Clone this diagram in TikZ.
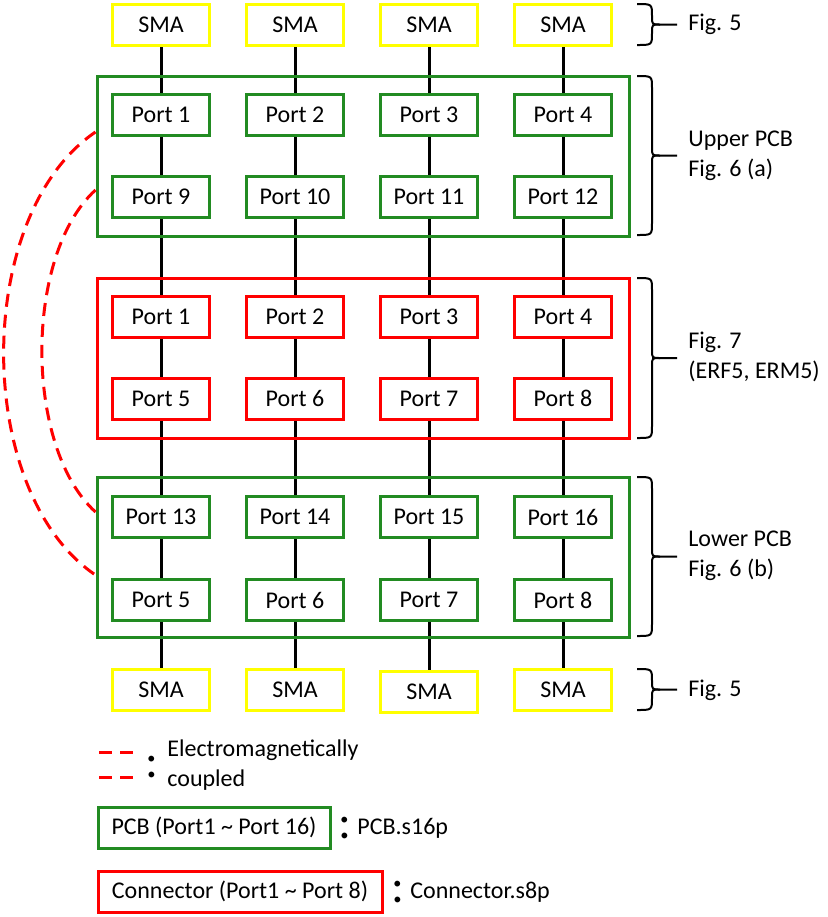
\documentclass[tikz,border=0pt]{standalone}
\usepackage{fontspec}
\setmainfont{Carlito}
\usepackage{tikz}
\usetikzlibrary{shapes}
\usetikzlibrary{backgrounds}
\definecolor{smayellow}{RGB}{255,255,0}
\definecolor{pcbgreen}{RGB}{34,139,34}
\definecolor{conred}{RGB}{255,0,0}
\tikzstyle{SMA} = [rectangle, minimum width=48.5pt, minimum height=20.5pt, inner sep=0pt, text centered, draw=smayellow, line width=1.5pt, fill=white]
\tikzstyle{PCBport} = [rectangle, minimum width=48.5pt, minimum height=20.5pt, inner sep=0pt, text centered, draw=pcbgreen, line width=1.5pt, fill=white]
\tikzstyle{CONport} = [rectangle, minimum width=48.5pt, minimum height=20.5pt, inner sep=0pt, text centered, draw=conred, line width=1.5pt, fill=white]
\tikzstyle{PCBgroup} = [rectangle, minimum width=266pt, minimum height=80pt, draw=pcbgreen, line width=1.5pt]
\tikzstyle{CONgroup} = [rectangle, minimum width=266pt, minimum height=80pt, draw=conred, line width=1.5pt]
\tikzstyle{wire} = [line width=1.5pt, black]
\tikzstyle{coupled} = [line width=1.5pt, conred, dash pattern=on 6.5pt off 4pt]
\tikzstyle{braceline} = [line width=1pt, black]
\tikzstyle{figlabel} = [anchor=west, align=left, inner sep=0pt]
\tikzstyle{colon} = [inner sep=0pt, font=\fontsize{24}{24}\selectfont]
% curly bracket on the right of a block: top, bottom
\newcommand{\figbrace}[2]{%
  \draw[braceline] (637,#1) .. controls (652,#1) .. (652,{#1+12}) -- (652,{(#1+#2)/2-8})
    .. controls (652,{(#1+#2)/2}) .. (660,{(#1+#2)/2}) -- (677,{(#1+#2)/2});
  \draw[braceline] (637,#2) .. controls (652,#2) .. (652,{#2-12}) -- (652,{(#1+#2)/2+8})
    .. controls (652,{(#1+#2)/2}) .. (660,{(#1+#2)/2});
}

\begin{document}
\begin{tikzpicture}[x=0.5pt, y=-0.5pt, node distance=67pt, font=\fontsize{12}{15}\selectfont]

    \useasboundingbox (0,0) rectangle (827,917);

    % SMA on top
    \node(sma1)[SMA] at (161,24.5) {SMA};
    \node(sma2)[SMA, right of=sma1] {SMA};
    \node(sma3)[SMA, right of=sma2] {SMA};
    \node(sma4)[SMA, right of=sma3] {SMA};

    % upper PCB
    \node(upper)[PCBgroup] at (363,156) {};
    \node(pu1)[PCBport] at (161,115) {Port 1};
    \node(pu2)[PCBport, right of=pu1] {Port 2};
    \node(pu3)[PCBport, right of=pu2] {Port 3};
    \node(pu4)[PCBport, right of=pu3] {Port 4};
    \node(pu9)[PCBport] at (161,197) {Port 9};
    \node(pu10)[PCBport, right of=pu9] {Port 10};
    \node(pu11)[PCBport, right of=pu10] {Port 11};
    \node(pu12)[PCBport, right of=pu11] {Port 12};

    % connector
    \node(conn)[CONgroup] at (363,358) {};
    \node(pc1)[CONport] at (161,316.5) {Port 1};
    \node(pc2)[CONport, right of=pc1] {Port 2};
    \node(pc3)[CONport, right of=pc2] {Port 3};
    \node(pc4)[CONport, right of=pc3] {Port 4};
    \node(pc5)[CONport] at (161,398.5) {Port 5};
    \node(pc6)[CONport, right of=pc5] {Port 6};
    \node(pc7)[CONport, right of=pc6] {Port 7};
    \node(pc8)[CONport, right of=pc7] {Port 8};

    % lower PCB
    \node(lower)[PCBgroup] at (363,557) {};
    \node(pl13)[PCBport] at (161,517) {Port 13};
    \node(pl14)[PCBport, right of=pl13] {Port 14};
    \node(pl15)[PCBport, right of=pl14] {Port 15};
    \node(pl16)[PCBport, right of=pl15] {Port 16};
    \node(pl5)[PCBport] at (161,600) {Port 5};
    \node(pl6)[PCBport, right of=pl5] {Port 6};
    \node(pl7)[PCBport, right of=pl6] {Port 7};
    \node(pl8)[PCBport, right of=pl7] {Port 8};

    % SMA at the bottom
    \node(smb1)[SMA] at (161,690) {SMA};
    \node(smb2)[SMA, right of=smb1] {SMA};
    \node(smb3)[SMA, right of=smb2, yshift=-1pt] {SMA};
    \node(smb4)[SMA, right of=smb3, yshift=1pt] {SMA};

    \begin{scope}[on background layer]
    \draw[wire] (sma1) -- (smb1);
    \draw[wire] (sma2) -- (smb2);
    \draw[wire] (sma3) -- (smb3);
    \draw[wire] (sma4) -- (smb4);
    \end{scope}

    % coupling between the two PCBs
    \coordinate(ua) at ([yshift=12pt]upper.west);
    \coordinate(ub) at ([yshift=-17pt]upper.west);
    \coordinate(la) at ([yshift=22.5pt]lower.west);
    \coordinate(lb) at ([yshift=-9pt]lower.west);
    \draw[coupled] (ua) .. controls (-27,215) and (-27,492) .. (lb);
    \draw[coupled] (ub) .. controls (24,255) and (24,447) .. (la);

    % brackets and figure numbers
    \figbrace{4}{45}
    \figbrace{76}{235}
    \figbrace{278}{438}
    \figbrace{477}{636}
    \figbrace{669}{710}
    \node(fig5a)[figlabel] at (688,24.5) {Fig. 5};
    \node(fig6a)[figlabel] at (688,155.5) {Upper PCB\\Fig. 6 (a)};
    \node(fig7)[figlabel] at (688,357) {Fig. 7\\(ERF5, ERM5)};
    \node(fig6b)[figlabel] at (688,556) {Lower PCB\\Fig. 6 (b)};
    \node(fig5b)[figlabel] at (688,690) {Fig. 5};

    % legend
    \coordinate(ka1) at (99,752);
    \coordinate(ka2) at (134,752);
    \coordinate(kb1) at (99,777);
    \coordinate(kb2) at (134,777);
    \draw[coupled] (ka1) -- (ka2);
    \draw[coupled] (kb1) -- (kb2);
    \node(colA)[colon] at (152,767) {:};
    \node(keyA)[figlabel] at (167,765) {Electromagnetically\\coupled};

    \node(keyB)[PCBport, minimum width=116pt] at (214,827.5) {PCB (Port1 \textasciitilde{} Port 16)};
    \node(colB)[colon] at (345,828) {:};
    \node(fileB)[figlabel] at (357,828) {PCB.s16p};

    \node(keyC)[CONport, minimum width=142pt] at (240,891.5) {Connector (Port1 \textasciitilde{} Port 8)};
    \node(colC)[colon] at (398,892) {:};
    \node(fileC)[figlabel] at (410,892) {Connector.s8p};

\end{tikzpicture}
\end{document}
